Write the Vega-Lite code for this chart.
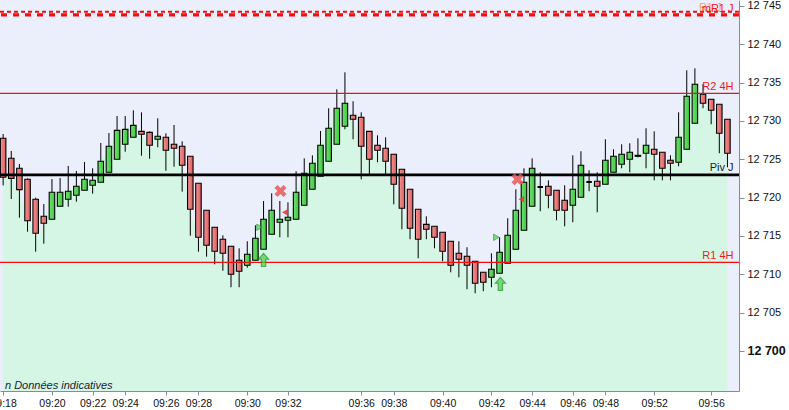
{
  "$schema": "https://vega.github.io/schema/vega-lite/v6.json",
  "width": 739,
  "height": 391,
  "padding": {"left": 0, "top": 0, "right": 50, "bottom": 19},
  "autosize": "none",
  "background": "white",
  "config": {
    "view": {"fill": "#EBEEFB", "stroke": null},
    "font": "Liberation Sans",
    "text": {"font": "Liberation Sans"}
  },
  "datasets": {
    "candles": [
      {"i":0,"o":12727.74,"h":12728.3,"l":12721.6,"c":12722.66,"d":"down"},
      {"i":1,"o":12725.13,"h":12726.09,"l":12719.82,"c":12722.52,"d":"down"},
      {"i":2,"o":12723.83,"h":12724.39,"l":12717.39,"c":12721.04,"d":"down"},
      {"i":3,"o":12722.39,"h":12722.5,"l":12715.56,"c":12716.99,"d":"down"},
      {"i":4,"o":12719.79,"h":12720.0,"l":12712.95,"c":12715.35,"d":"down"},
      {"i":5,"o":12717.57,"h":12719.17,"l":12713.99,"c":12716.66,"d":"down"},
      {"i":6,"o":12717.18,"h":12722.43,"l":12717.18,"c":12720.7,"d":"up"},
      {"i":7,"o":12718.87,"h":12722.56,"l":12718.87,"c":12720.7,"d":"up"},
      {"i":8,"o":12719.79,"h":12724.13,"l":12718.82,"c":12720.83,"d":"up"},
      {"i":9,"o":12720.31,"h":12723.48,"l":12719.47,"c":12721.48,"d":"up"},
      {"i":10,"o":12720.96,"h":12724.65,"l":12720.96,"c":12722.39,"d":"up"},
      {"i":11,"o":12721.61,"h":12723.83,"l":12720.52,"c":12722.26,"d":"up"},
      {"i":12,"o":12722.0,"h":12727.13,"l":12722.0,"c":12724.74,"d":"up"},
      {"i":13,"o":12723.31,"h":12728.43,"l":12723.31,"c":12726.7,"d":"up"},
      {"i":14,"o":12725.0,"h":12730.65,"l":12725.0,"c":12728.78,"d":"up"},
      {"i":15,"o":12726.96,"h":12730.65,"l":12725.99,"c":12728.91,"d":"up"},
      {"i":16,"o":12727.87,"h":12731.39,"l":12727.87,"c":12729.43,"d":"up"},
      {"i":17,"o":12728.65,"h":12731.13,"l":12725.47,"c":12728.26,"d":"down"},
      {"i":18,"o":12728.52,"h":12728.65,"l":12725.08,"c":12726.83,"d":"down"},
      {"i":19,"o":12727.61,"h":12730.35,"l":12726.57,"c":12728.0,"d":"up"},
      {"i":20,"o":12727.87,"h":12728.39,"l":12723.52,"c":12726.18,"d":"down"},
      {"i":21,"o":12726.96,"h":12729.48,"l":12724.04,"c":12726.44,"d":"down"},
      {"i":22,"o":12726.7,"h":12727.35,"l":12720.78,"c":12724.22,"d":"down"},
      {"i":23,"o":12725.39,"h":12725.39,"l":12715.04,"c":12718.48,"d":"down"},
      {"i":24,"o":12721.87,"h":12721.87,"l":12712.95,"c":12714.83,"d":"down"},
      {"i":25,"o":12718.35,"h":12718.35,"l":12712.3,"c":12713.79,"d":"down"},
      {"i":26,"o":12716.13,"h":12716.13,"l":12711.31,"c":12713.0,"d":"down"},
      {"i":27,"o":12714.57,"h":12715.09,"l":12710.47,"c":12712.74,"d":"down"},
      {"i":28,"o":12713.66,"h":12713.66,"l":12708.31,"c":12710.0,"d":"down"},
      {"i":29,"o":12711.83,"h":12713.39,"l":12708.31,"c":12710.39,"d":"down"},
      {"i":30,"o":12711.18,"h":12714.31,"l":12710.86,"c":12712.61,"d":"up"},
      {"i":31,"o":12711.83,"h":12716.39,"l":12711.83,"c":12714.7,"d":"up"},
      {"i":32,"o":12713.26,"h":12719.56,"l":12713.26,"c":12717.18,"d":"up"},
      {"i":33,"o":12715.22,"h":12720.57,"l":12715.22,"c":12718.35,"d":"up"},
      {"i":34,"o":12716.79,"h":12719.56,"l":12714.83,"c":12717.18,"d":"up"},
      {"i":35,"o":12717.05,"h":12719.39,"l":12714.83,"c":12717.44,"d":"up"},
      {"i":36,"o":12717.18,"h":12723.44,"l":12717.18,"c":12720.7,"d":"up"},
      {"i":37,"o":12719.0,"h":12725.13,"l":12719.0,"c":12723.18,"d":"up"},
      {"i":38,"o":12721.09,"h":12725.52,"l":12721.09,"c":12724.48,"d":"up"},
      {"i":39,"o":12722.79,"h":12728.69,"l":12722.79,"c":12726.83,"d":"up"},
      {"i":40,"o":12724.74,"h":12731.66,"l":12724.74,"c":12729.05,"d":"up"},
      {"i":41,"o":12726.96,"h":12734.13,"l":12726.96,"c":12731.66,"d":"up"},
      {"i":42,"o":12729.31,"h":12736.35,"l":12728.91,"c":12732.31,"d":"up"},
      {"i":43,"o":12730.74,"h":12732.57,"l":12727.61,"c":12730.22,"d":"down"},
      {"i":44,"o":12730.48,"h":12731.13,"l":12722.39,"c":12726.7,"d":"down"},
      {"i":45,"o":12728.65,"h":12728.65,"l":12723.05,"c":12725.0,"d":"down"},
      {"i":46,"o":12726.83,"h":12728.13,"l":12724.61,"c":12726.18,"d":"down"},
      {"i":47,"o":12726.44,"h":12727.87,"l":12723.05,"c":12724.74,"d":"down"},
      {"i":48,"o":12725.66,"h":12725.66,"l":12719.13,"c":12721.74,"d":"down"},
      {"i":49,"o":12723.7,"h":12723.7,"l":12715.87,"c":12718.61,"d":"down"},
      {"i":50,"o":12721.09,"h":12721.09,"l":12714.57,"c":12716.0,"d":"down"},
      {"i":51,"o":12718.48,"h":12718.48,"l":12712.09,"c":12714.57,"d":"down"},
      {"i":52,"o":12716.52,"h":12717.57,"l":12714.57,"c":12715.87,"d":"down"},
      {"i":53,"o":12716.26,"h":12716.26,"l":12713.39,"c":12714.83,"d":"down"},
      {"i":54,"o":12715.48,"h":12715.48,"l":12711.7,"c":12713.0,"d":"down"},
      {"i":55,"o":12714.31,"h":12714.31,"l":12710.26,"c":12711.18,"d":"down"},
      {"i":56,"o":12712.74,"h":12714.31,"l":12709.61,"c":12711.96,"d":"down"},
      {"i":57,"o":12712.35,"h":12713.53,"l":12708.05,"c":12711.18,"d":"down"},
      {"i":58,"o":12711.7,"h":12711.7,"l":12707.53,"c":12708.83,"d":"down"},
      {"i":59,"o":12710.26,"h":12710.26,"l":12707.79,"c":12708.96,"d":"down"},
      {"i":60,"o":12709.61,"h":12712.74,"l":12708.31,"c":12710.66,"d":"up"},
      {"i":61,"o":12710.13,"h":12714.83,"l":12710.13,"c":12712.87,"d":"up"},
      {"i":62,"o":12711.44,"h":12717.31,"l":12711.44,"c":12715.09,"d":"up"},
      {"i":63,"o":12713.26,"h":12721.09,"l":12713.26,"c":12718.35,"d":"up"},
      {"i":64,"o":12715.74,"h":12723.83,"l":12715.74,"c":12722.0,"d":"up"},
      {"i":65,"o":12718.87,"h":12725.13,"l":12718.87,"c":12723.83,"d":"up"},
      {"i":66,"o":12721.39,"h":12723.31,"l":12718.22,"c":12721.39,"d":"flat"},
      {"i":67,"o":12721.48,"h":12722.26,"l":12718.61,"c":12720.31,"d":"down"},
      {"i":68,"o":12720.96,"h":12720.96,"l":12717.05,"c":12718.35,"d":"down"},
      {"i":69,"o":12719.66,"h":12721.61,"l":12716.26,"c":12718.35,"d":"down"},
      {"i":70,"o":12719.0,"h":12725.52,"l":12716.79,"c":12721.09,"d":"up"},
      {"i":71,"o":12720.05,"h":12726.05,"l":12720.05,"c":12724.22,"d":"up"},
      {"i":72,"o":12722.04,"h":12723.57,"l":12720.83,"c":12722.04,"d":"flat"},
      {"i":73,"o":12722.13,"h":12723.31,"l":12718.09,"c":12721.48,"d":"down"},
      {"i":74,"o":12721.74,"h":12727.61,"l":12721.74,"c":12724.87,"d":"up"},
      {"i":75,"o":12723.31,"h":12726.31,"l":12723.31,"c":12725.39,"d":"up"},
      {"i":76,"o":12724.35,"h":12726.96,"l":12723.83,"c":12725.66,"d":"up"},
      {"i":77,"o":12725.0,"h":12727.09,"l":12723.31,"c":12725.92,"d":"up"},
      {"i":78,"o":12725.39,"h":12727.74,"l":12725.26,"c":12725.52,"d":"up"},
      {"i":79,"o":12725.79,"h":12729.05,"l":12723.83,"c":12726.83,"d":"up"},
      {"i":80,"o":12726.31,"h":12728.65,"l":12722.26,"c":12725.66,"d":"down"},
      {"i":81,"o":12725.92,"h":12725.92,"l":12722.26,"c":12723.83,"d":"down"},
      {"i":82,"o":12724.87,"h":12725.52,"l":12722.26,"c":12724.48,"d":"down"},
      {"i":83,"o":12724.61,"h":12731.13,"l":12724.09,"c":12727.87,"d":"up"},
      {"i":84,"o":12726.31,"h":12736.61,"l":12726.31,"c":12733.22,"d":"up"},
      {"i":85,"o":12729.7,"h":12736.87,"l":12729.7,"c":12734.79,"d":"up"},
      {"i":86,"o":12733.48,"h":12734.79,"l":12731.66,"c":12732.31,"d":"down"},
      {"i":87,"o":12732.83,"h":12732.83,"l":12729.57,"c":12731.39,"d":"down"},
      {"i":88,"o":12732.18,"h":12732.18,"l":12725.79,"c":12728.39,"d":"down"},
      {"i":89,"o":12730.22,"h":12730.22,"l":12723.96,"c":12725.79,"d":"down"}
    ],
    "levels": [
      {"name":"mR1 J","v":12744.26},
      {"name":"R1 J","v":12743.83},
      {"name":"R2 4H","v":12733.61},
      {"name":"Piv J","v":12722.96},
      {"name":"R1 4H","v":12711.57}
    ],
    "markers": [
      {"kind":"x","i":34.08,"v":12720.87},
      {"kind":"x","i":63.2,"v":12722.4},
      {"kind":"tl","i":34.6,"v":12718.09},
      {"kind":"tl","i":63.67,"v":12719.79},
      {"kind":"tr","i":31.5,"v":12716.14},
      {"kind":"tr","i":60.6,"v":12714.83},
      {"kind":"up","i":32.0,"v":12711.87},
      {"kind":"up","i":61.1,"v":12708.74}
    ],
    "notes": [
      {"i":0.2303,"v":12695.04,"t":"n Données indicatives"}
    ]
  },
  "layer": [
    {
      "data": {"name": "candles"},
      "mark": {
        "type": "area", "clip": true, "interpolate": "linear",
        "fill": {"gradient": "linear", "x1": 0, "y1": 0, "x2": 0, "y2": 1,
          "stops": [{"offset": 0, "color": "#D6F6E5"}, {"offset": 1, "color": "#C4ECDC"}]},
        "stroke": null
      },
      "encoding": {
        "x": {
          "field": "i", "type": "quantitative", "title": null,
          "scale": {"domain": [0.2303, 89.806], "nice": false, "zero": false},
          "axis": {
            "orient": "bottom", "grid": false,
            "values": [0,6,11,15,20,24,30,35,44,48,54,60,65,70,74,80,87],
            "labelExpr": "['09:18','09:20','09:22','09:24','09:26','09:28','09:30','09:32','09:36','09:38','09:40','09:42','09:44','09:46','09:48','09:52','09:56'][indexof([0,6,11,15,20,24,30,35,44,48,54,60,65,70,74,80,87], datum.value)]",
            "domainColor": "#7F8E9B", "tickColor": "#7F8E9B", "tickSize": 4,
            "labelFontSize": 10.5, "labelColor": "#111111", "labelPadding": 3,
            "labelFlush": false, "labelOverlap": false, "labelFont": "Liberation Sans"
          }
        },
        "y": {
          "field": "c", "type": "quantitative", "title": null,
          "scale": {"domain": [12694.78, 12745.78], "nice": false, "zero": false},
          "axis": {
            "orient": "right", "grid": false,
            "values": [12700,12705,12710,12715,12720,12725,12730,12735,12740,12745],
            "labelExpr": "replace(format(datum.value, ','), ',', ' ')",
            "domainColor": "#7F8E9B", "tickColor": "#7F8E9B", "tickSize": 5,
            "labelColor": "#111111", "labelPadding": 3, "labelFont": "Liberation Sans",
            "labelFontSize": {"condition": {"test": "datum.value == 12700", "value": 12.5}, "value": 11},
            "labelFontWeight": {"condition": {"test": "datum.value == 12700", "value": "bold"}, "value": "normal"},
            "labelFlush": false, "labelOverlap": false
          }
        }
      }
    },
    {
      "data": {"name": "candles"},
      "mark": {"type": "rule", "clip": true, "color": "#000000", "strokeWidth": 1},
      "encoding": {
        "x": {"field": "i", "type": "quantitative"},
        "y": {"field": "l", "type": "quantitative"},
        "y2": {"field": "h"}
      }
    },
    {
      "data": {"name": "candles"},
      "transform": [{"filter": "datum.d == 'up'"}],
      "mark": {
        "type": "bar", "clip": true, "orient": "vertical", "width": 5.5,
        "fill": {"gradient": "linear", "x1": 0, "y1": 0, "x2": 1, "y2": 0,
          "stops": [{"offset": 0, "color": "#72E272"}, {"offset": 1, "color": "#3EC63E"}]},
        "stroke": "#000000", "strokeWidth": 1.1
      },
      "encoding": {
        "x": {"field": "i", "type": "quantitative"},
        "y": {"field": "o", "type": "quantitative"},
        "y2": {"field": "c"}
      }
    },
    {
      "data": {"name": "candles"},
      "transform": [{"filter": "datum.d == 'down'"}],
      "mark": {
        "type": "bar", "clip": true, "orient": "vertical", "width": 5.5,
        "fill": {"gradient": "linear", "x1": 0, "y1": 0, "x2": 1, "y2": 0,
          "stops": [{"offset": 0, "color": "#F39393"}, {"offset": 1, "color": "#DC5F5F"}]},
        "stroke": "#000000", "strokeWidth": 1.1
      },
      "encoding": {
        "x": {"field": "i", "type": "quantitative"},
        "y": {"field": "o", "type": "quantitative"},
        "y2": {"field": "c"}
      }
    },
    {
      "data": {"name": "candles"},
      "transform": [{"filter": "datum.d == 'flat'"}],
      "mark": {"type": "bar", "clip": true, "orient": "vertical", "width": 5.5, "fill": "#000000", "stroke": "#000000", "strokeWidth": 2},
      "encoding": {
        "x": {"field": "i", "type": "quantitative"},
        "y": {"field": "o", "type": "quantitative"},
        "y2": {"field": "c"}
      }
    },
    {
      "data": {"name": "levels"},
      "transform": [{"filter": "datum.name == 'R2 4H' || datum.name == 'R1 4H'"}],
      "mark": {"type": "rule", "clip": true, "color": "#F01010", "strokeWidth": 1.3},
      "encoding": {"y": {"field": "v", "type": "quantitative"}}
    },
    {
      "data": {"name": "levels"},
      "transform": [{"filter": "datum.name == 'Piv J'"}],
      "mark": {"type": "rule", "clip": true, "color": "#000000", "strokeWidth": 2.7},
      "encoding": {"y": {"field": "v", "type": "quantitative"}}
    },
    {
      "data": {"name": "levels"},
      "transform": [{"filter": "datum.name == 'mR1 J'"}],
      "mark": {"type": "rule", "clip": true, "color": "#F01010", "strokeWidth": 2, "strokeDash": [4, 3]},
      "encoding": {"y": {"field": "v", "type": "quantitative"}}
    },
    {
      "data": {"name": "levels"},
      "transform": [{"filter": "datum.name == 'R1 J'"}],
      "mark": {"type": "rule", "clip": true, "color": "#F01010", "strokeWidth": 3.2, "strokeDash": [6, 6]},
      "encoding": {"y": {"field": "v", "type": "quantitative"}}
    },
    {
      "data": {"name": "levels"},
      "transform": [{"filter": "datum.name == 'R2 4H' || datum.name == 'R1 4H'"}],
      "mark": {"type": "text", "align": "right", "baseline": "alphabetic", "dy": -3, "fontSize": 11, "color": "#F01818", "font": "Liberation Sans"},
      "encoding": {
        "x": {"datum": 89.75, "type": "quantitative"},
        "y": {"field": "v", "type": "quantitative"},
        "text": {"field": "name"}
      }
    },
    {
      "data": {"name": "levels"},
      "transform": [{"filter": "datum.name == 'R1 J'"}],
      "mark": {"type": "text", "align": "right", "baseline": "alphabetic", "dx": -12, "dy": -4, "fontSize": 11, "color": "#F4A860", "font": "Liberation Sans"},
      "encoding": {
        "x": {"datum": 89.75, "type": "quantitative"},
        "y": {"field": "v", "type": "quantitative"},
        "text": {"field": "name"}
      }
    },
    {
      "data": {"name": "levels"},
      "transform": [{"filter": "datum.name == 'mR1 J'"}],
      "mark": {"type": "text", "align": "right", "baseline": "alphabetic", "dy": 0.5, "fontSize": 11, "color": "#F01818", "font": "Liberation Sans"},
      "encoding": {
        "x": {"datum": 89.75, "type": "quantitative"},
        "y": {"field": "v", "type": "quantitative"},
        "text": {"field": "name"}
      }
    },
    {
      "data": {"name": "levels"},
      "transform": [{"filter": "datum.name == 'Piv J'"}],
      "mark": {"type": "text", "align": "right", "baseline": "alphabetic", "dy": -4, "fontSize": 11, "color": "#1A1A48", "font": "Liberation Sans"},
      "encoding": {
        "x": {"datum": 89.75, "type": "quantitative"},
        "y": {"field": "v", "type": "quantitative"},
        "text": {"field": "name"}
      }
    },
    {
      "data": {"name": "markers"},
      "transform": [{"filter": "datum.kind == 'x'"}],
      "mark": {"type": "point", "filled": true, "size": 144, "opacity": 0.85, "color": "#E85858",
        "shape": "M-1,-0.5 L-0.5,-1 L0,-0.5 L0.5,-1 L1,-0.5 L0.5,0 L1,0.5 L0.5,1 L0,0.5 L-0.5,1 L-1,0.5 L-0.5,0 Z"},
      "encoding": {"x": {"field": "i", "type": "quantitative"}, "y": {"field": "v", "type": "quantitative"}}
    },
    {
      "data": {"name": "markers"},
      "transform": [{"filter": "datum.kind == 'tl'"}],
      "mark": {"type": "point", "filled": true, "size": 40, "shape": "triangle-left", "color": "#E04040", "opacity": 0.9},
      "encoding": {"x": {"field": "i", "type": "quantitative"}, "y": {"field": "v", "type": "quantitative"}}
    },
    {
      "data": {"name": "markers"},
      "transform": [{"filter": "datum.kind == 'tr'"}],
      "mark": {"type": "point", "filled": true, "size": 40, "shape": "triangle-right", "fill": "#55D055", "stroke": "#1E9A1E", "strokeWidth": 1},
      "encoding": {"x": {"field": "i", "type": "quantitative"}, "y": {"field": "v", "type": "quantitative"}}
    },
    {
      "data": {"name": "markers"},
      "transform": [{"filter": "datum.kind == 'up'"}],
      "mark": {"type": "point", "filled": true, "size": 169, "fill": "#44D044", "stroke": "#1A8C1A", "strokeWidth": 1.2,
        "shape": "M0,-1 L0.77,-0.12 L0.33,-0.12 L0.33,1 L-0.33,1 L-0.33,-0.12 L-0.77,-0.12 Z"},
      "encoding": {"x": {"field": "i", "type": "quantitative"}, "y": {"field": "v", "type": "quantitative"}}
    },
    {
      "data": {"name": "notes"},
      "mark": {"type": "text", "align": "left", "baseline": "alphabetic", "fontSize": 11, "fontStyle": "italic", "color": "#1A1A30", "font": "Liberation Sans"},
      "encoding": {
        "x": {"field": "i", "type": "quantitative"},
        "y": {"field": "v", "type": "quantitative"},
        "text": {"field": "t"}
      }
    }
  ]
}
